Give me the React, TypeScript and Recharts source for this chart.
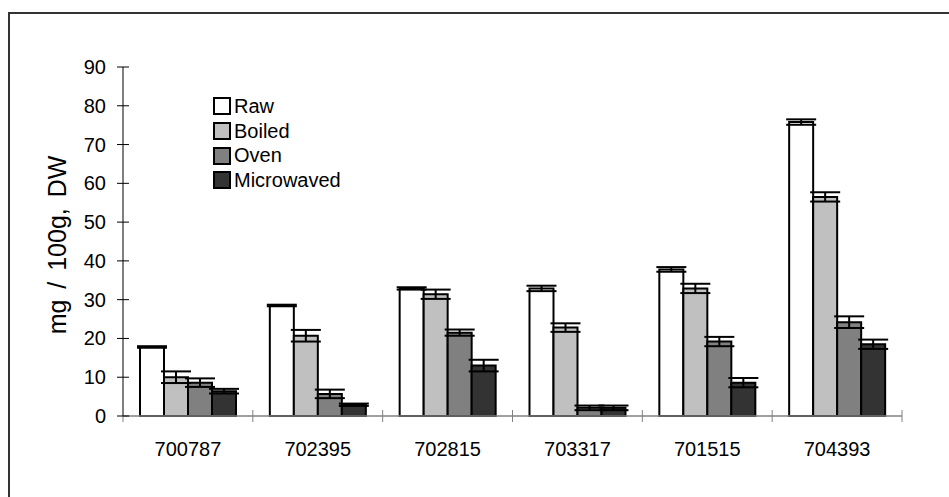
import React from "react";
import { BarChart, Bar, XAxis, YAxis, ErrorBar, Legend } from "recharts";

const categories = ["700787", "702395", "702815", "703317", "701515", "704393"];
const seriesNames = ["Raw", "Boiled", "Oven", "Microwaved"];
const raw = [17.8, 28.5, 32.9, 32.9, 37.8, 75.8];
const rawErr = [0.2, 0.2, 0.3, 0.7, 0.6, 0.7];
const boiled = [10.0, 20.7, 31.4, 22.8, 32.9, 56.5];
const boiledErr = [1.5, 1.5, 1.2, 1.1, 1.2, 1.2];
const oven = [8.6, 5.7, 21.5, 2.1, 19.2, 24.2];
const ovenErr = [1.1, 1.1, 0.8, 0.6, 1.2, 1.5];
const microwaved = [6.4, 2.9, 13.0, 2.1, 8.6, 18.5];
const microwavedErr = [0.6, 0.3, 1.5, 0.6, 1.2, 1.2];
const yTicks = [0, 10, 20, 30, 40, 50, 60, 70, 80, 90];

const data = categories.map((name, i) => ({
  name,
  raw: raw[i],
  rawErr: rawErr[i],
  boiled: boiled[i],
  boiledErr: boiledErr[i],
  oven: oven[i],
  ovenErr: ovenErr[i],
  microwaved: microwaved[i],
  microwavedErr: microwavedErr[i],
}));

const FONT = "'Liberation Sans', Arial, sans-serif";
const W = 949;
const H = 497;
const margin = { top: 67, right: 47, bottom: 41, left: 43 };
const Y_W = 80;
const X_H = 40;
const plotW = W - margin.left - margin.right - Y_W;
const band = plotW / categories.length;

const XTick = (props: any) => {
  const { x, y, payload, index } = props;
  return (
    <g>
      <line x1={x - band / 2} x2={x - band / 2} y1={y - 6} y2={y + 6} stroke="#808080" />
      {index === categories.length - 1 && (
        <line x1={x + band / 2} x2={x + band / 2} y1={y - 6} y2={y + 6} stroke="#808080" />
      )}
      <text x={x} y={y + 40} textAnchor="middle" fontSize={20} fontFamily={FONT} fill="#000">
        {payload.value}
      </text>
    </g>
  );
};

const YTick = (props: any) => {
  const { x, y, payload } = props;
  return (
    <g>
      <line x1={x - 6} x2={x + 6} y1={y} y2={y} stroke="#000" />
      <text x={x - 17} y={y} dy={7} textAnchor="end" fontSize={20} fontFamily={FONT} fill="#000">
        {payload.value}
      </text>
    </g>
  );
};

const LegendBox = (props: any) => {
  const items = [...(props.payload || [])].sort(
    (a: any, b: any) => seriesNames.indexOf(a.value) - seriesNames.indexOf(b.value)
  );
  return (
    <div style={{ fontFamily: FONT, fontSize: 20, color: "#000" }}>
      {items.map((p: any) => (
        <div key={p.value} style={{ display: "flex", alignItems: "center", height: 24.7 }}>
          <span
            style={{
              display: "inline-block",
              width: 18,
              height: 18,
              boxSizing: "border-box",
              border: "2px solid #000",
              background: p.color,
              marginRight: 3,
            }}
          />
          <span>{p.value}</span>
        </div>
      ))}
    </div>
  );
};

export default function App() {
  return (
    <div style={{ position: "absolute", left: 0, top: 0, width: W, height: H, background: "#fff", overflow: "hidden" }}>
      <div
        style={{
          position: "absolute",
          left: 8,
          top: 12,
          width: W - 8,
          height: H - 12,
          boxSizing: "border-box",
          borderTop: "2px solid #333",
          borderLeft: "2px solid #333",
        }}
      />
      <div style={{ position: "absolute", left: 0, top: 0 }}>
        <BarChart width={W} height={H} data={data} margin={margin} barCategoryGap={17} barGap={0}>
          <XAxis
            dataKey="name"
            height={X_H}
            stroke="#808080"
            strokeWidth={1.5}
            tickLine={false}
            tickSize={0}
            tickMargin={0}
            tick={<XTick />}
            interval={0}
          />
          <YAxis
            width={Y_W}
            domain={[0, 90]}
            ticks={yTicks}
            stroke="#000"
            tickLine={false}
            tickSize={0}
            tickMargin={0}
            tick={<YTick />}
            interval={0}
            label={{
              content: () => (
                <text
                  x={58}
                  y={245}
                  transform="rotate(-90 58 245)"
                  textAnchor="middle"
                  dy={8}
                  fontSize={25}
                  fontFamily={FONT}
                  fill="#000"
                  style={{ wordSpacing: 4 }}
                >
                  mg / 100g, DW
                </text>
              ),
            }}
          />
          <Legend
            content={<LegendBox />}
            layout="vertical"
            verticalAlign="middle"
            align="center"
            itemSorter={null as any}
            wrapperStyle={{ left: 213, top: 94, width: "auto" }}
          />
          <Bar dataKey="raw" name="Raw" fill="#ffffff" stroke="#000" strokeWidth={2} isAnimationActive={false}>
            <ErrorBar dataKey="rawErr" width={15} stroke="#000" strokeWidth={2} direction="y" />
          </Bar>
          <Bar dataKey="boiled" name="Boiled" fill="#c0c0c0" stroke="#000" strokeWidth={2} isAnimationActive={false}>
            <ErrorBar dataKey="boiledErr" width={15} stroke="#000" strokeWidth={2} direction="y" />
          </Bar>
          <Bar dataKey="oven" name="Oven" fill="#808080" stroke="#000" strokeWidth={2} isAnimationActive={false}>
            <ErrorBar dataKey="ovenErr" width={15} stroke="#000" strokeWidth={2} direction="y" />
          </Bar>
          <Bar
            dataKey="microwaved"
            name="Microwaved"
            fill="#333333"
            stroke="#000"
            strokeWidth={2}
            isAnimationActive={false}
          >
            <ErrorBar dataKey="microwavedErr" width={15} stroke="#000" strokeWidth={2} direction="y" />
          </Bar>
        </BarChart>
      </div>
    </div>
  );
}
